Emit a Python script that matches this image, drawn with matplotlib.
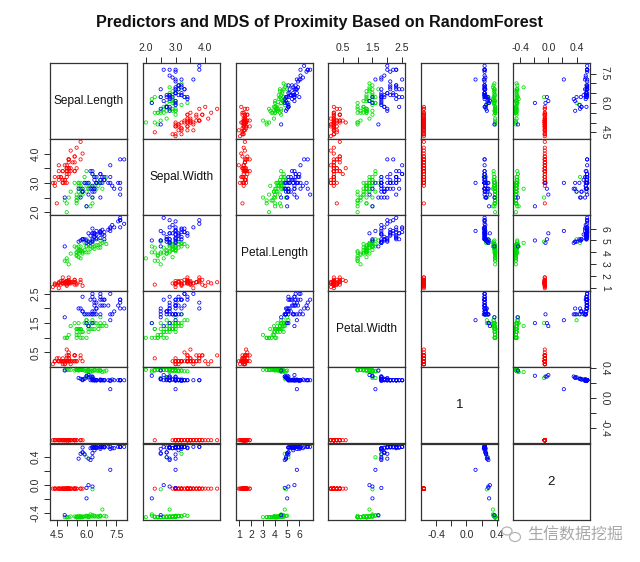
import matplotlib
matplotlib.use("Agg")
import matplotlib.pyplot as plt
from matplotlib.patches import Ellipse
import numpy as np

# ---------------- data (iris + MDS of random-forest proximity) ----------------
sepal_length = [5.1, 4.9, 4.7, 4.6, 5.0, 5.4, 4.6, 5.0, 4.4, 4.9, 5.4, 4.8, 4.8, 4.3, 5.8, 5.7, 5.4, 5.1, 5.7, 5.1,
                5.4, 5.1, 4.6, 5.1, 4.8, 5.0, 5.0, 5.2, 5.2, 4.7, 4.8, 5.4, 5.2, 5.5, 4.9, 5.0, 5.5, 4.9, 4.4, 5.1,
                5.0, 4.5, 4.4, 5.0, 5.1, 4.8, 5.1, 4.6, 5.3, 5.0,
                7.0, 6.4, 6.9, 5.5, 6.5, 5.7, 6.3, 4.9, 6.6, 5.2, 5.0, 5.9, 6.0, 6.1, 5.6, 6.7, 5.6, 5.8, 6.2, 5.6,
                5.9, 6.1, 6.3, 6.1, 6.4, 6.6, 6.8, 6.7, 6.0, 5.7, 5.5, 5.5, 5.8, 6.0, 5.4, 6.0, 6.7, 6.3, 5.6, 5.5,
                5.5, 6.1, 5.8, 5.0, 5.6, 5.7, 5.7, 6.2, 5.1, 5.7,
                6.3, 5.8, 7.1, 6.3, 6.5, 7.6, 4.9, 7.3, 6.7, 7.2, 6.5, 6.4, 6.8, 5.7, 5.8, 6.4, 6.5, 7.7, 7.7, 6.0,
                6.9, 5.6, 7.7, 6.3, 6.7, 7.2, 6.2, 6.1, 6.4, 7.2, 7.4, 7.9, 6.4, 6.3, 6.1, 7.7, 6.3, 6.4, 6.0, 6.9,
                6.7, 6.9, 5.8, 6.8, 6.7, 6.7, 6.3, 6.5, 6.2, 5.9]
sepal_width = [3.5, 3.0, 3.2, 3.1, 3.6, 3.9, 3.4, 3.4, 2.9, 3.1, 3.7, 3.4, 3.0, 3.0, 4.0, 4.4, 3.9, 3.5, 3.8, 3.8,
               3.4, 3.7, 3.6, 3.3, 3.4, 3.0, 3.4, 3.5, 3.4, 3.2, 3.1, 3.4, 4.1, 4.2, 3.1, 3.2, 3.5, 3.6, 3.0, 3.4,
               3.5, 2.3, 3.2, 3.5, 3.8, 3.0, 3.8, 3.2, 3.7, 3.3,
               3.2, 3.2, 3.1, 2.3, 2.8, 2.8, 3.3, 2.4, 2.9, 2.7, 2.0, 3.0, 2.2, 2.9, 2.9, 3.1, 3.0, 2.7, 2.2, 2.5,
               3.2, 2.8, 2.5, 2.8, 2.9, 3.0, 2.8, 3.0, 2.9, 2.6, 2.4, 2.4, 2.7, 2.7, 3.0, 3.4, 3.1, 2.3, 3.0, 2.5,
               2.6, 3.0, 2.6, 2.3, 2.7, 3.0, 2.9, 2.9, 2.5, 2.8,
               3.3, 2.7, 3.0, 2.9, 3.0, 3.0, 2.5, 2.9, 2.5, 3.6, 3.2, 2.7, 3.0, 2.5, 2.8, 3.2, 3.0, 3.8, 2.6, 2.2,
               3.2, 2.8, 2.8, 2.7, 3.3, 3.2, 2.8, 3.0, 2.8, 3.0, 2.8, 3.8, 2.8, 2.8, 2.6, 3.0, 3.4, 3.1, 3.0, 3.1,
               3.1, 3.1, 2.7, 3.2, 3.3, 3.0, 2.5, 3.0, 3.4, 3.0]
petal_length = [1.4, 1.4, 1.3, 1.5, 1.4, 1.7, 1.4, 1.5, 1.4, 1.5, 1.5, 1.6, 1.4, 1.1, 1.2, 1.5, 1.3, 1.4, 1.7, 1.5,
                1.7, 1.5, 1.0, 1.7, 1.9, 1.6, 1.6, 1.5, 1.4, 1.6, 1.6, 1.5, 1.5, 1.4, 1.5, 1.2, 1.3, 1.4, 1.3, 1.5,
                1.3, 1.3, 1.3, 1.6, 1.9, 1.4, 1.6, 1.4, 1.5, 1.4,
                4.7, 4.5, 4.9, 4.0, 4.6, 4.5, 4.7, 3.3, 4.6, 3.9, 3.5, 4.2, 4.0, 4.7, 3.6, 4.4, 4.5, 4.1, 4.5, 3.9,
                4.8, 4.0, 4.9, 4.7, 4.3, 4.4, 4.8, 5.0, 4.5, 3.5, 3.8, 3.7, 3.9, 5.1, 4.5, 4.5, 4.7, 4.4, 4.1, 4.0,
                4.4, 4.6, 4.0, 3.3, 4.2, 4.2, 4.2, 4.3, 3.0, 4.1,
                6.0, 5.1, 5.9, 5.6, 5.8, 6.6, 4.5, 6.3, 5.8, 6.1, 5.1, 5.3, 5.5, 5.0, 5.1, 5.3, 5.5, 6.7, 6.9, 5.0,
                5.7, 4.9, 6.7, 4.9, 5.7, 6.0, 4.8, 4.9, 5.6, 5.8, 6.1, 6.4, 5.6, 5.1, 5.6, 6.1, 5.6, 5.5, 4.8, 5.4,
                5.6, 5.1, 5.1, 5.9, 5.7, 5.2, 5.0, 5.2, 5.4, 5.1]
petal_width = [0.2, 0.2, 0.2, 0.2, 0.2, 0.4, 0.3, 0.2, 0.2, 0.1, 0.2, 0.2, 0.1, 0.1, 0.2, 0.4, 0.4, 0.3, 0.3, 0.3,
               0.2, 0.4, 0.2, 0.5, 0.2, 0.2, 0.4, 0.2, 0.2, 0.2, 0.2, 0.4, 0.1, 0.2, 0.2, 0.2, 0.2, 0.1, 0.2, 0.2,
               0.3, 0.3, 0.2, 0.6, 0.4, 0.3, 0.2, 0.2, 0.2, 0.2,
               1.4, 1.5, 1.5, 1.3, 1.5, 1.3, 1.6, 1.0, 1.3, 1.4, 1.0, 1.5, 1.0, 1.4, 1.3, 1.4, 1.5, 1.0, 1.5, 1.1,
               1.8, 1.3, 1.5, 1.2, 1.3, 1.4, 1.4, 1.7, 1.5, 1.0, 1.1, 1.0, 1.2, 1.6, 1.5, 1.6, 1.5, 1.3, 1.3, 1.3,
               1.2, 1.4, 1.2, 1.0, 1.3, 1.2, 1.3, 1.3, 1.1, 1.3,
               2.5, 1.9, 2.1, 1.8, 2.2, 2.1, 1.7, 1.8, 1.8, 2.5, 2.0, 1.9, 2.1, 2.0, 2.4, 2.3, 1.8, 2.2, 2.3, 1.5,
               2.3, 2.0, 2.0, 1.8, 2.1, 1.8, 1.8, 1.8, 2.1, 1.6, 1.9, 2.0, 2.2, 1.5, 1.4, 2.3, 2.4, 1.8, 1.8, 2.1,
               2.4, 2.3, 1.9, 2.3, 2.5, 2.3, 1.9, 2.0, 2.3, 1.8]
mds_dim1 = [-0.565, -0.565, -0.565, -0.565, -0.565, -0.565, -0.565, -0.565, -0.565, -0.565,
            -0.565, -0.565, -0.565, -0.565, -0.565, -0.565, -0.565, -0.565, -0.565, -0.565,
            -0.565, -0.565, -0.565, -0.565, -0.565, -0.565, -0.565, -0.565, -0.565, -0.565,
            -0.565, -0.565, -0.565, -0.565, -0.565, -0.565, -0.565, -0.565, -0.565, -0.565,
            -0.565, -0.565, -0.565, -0.565, -0.565, -0.565, -0.565, -0.565, -0.565, -0.565,
            0.37, 0.37, 0.36, 0.38, 0.37, 0.38, 0.36, 0.38, 0.37, 0.38,
            0.38, 0.37, 0.37, 0.37, 0.38, 0.37, 0.37, 0.38, 0.35, 0.38,
            0.26, 0.38, 0.27, 0.37, 0.38, 0.37, 0.35, 0.37, 0.37, 0.38,
            0.38, 0.38, 0.38, 0.27, 0.37, 0.36, 0.37, 0.37, 0.38, 0.38,
            0.38, 0.37, 0.38, 0.38, 0.38, 0.38, 0.38, 0.37, 0.38, 0.38,
            0.24, 0.25, 0.24, 0.25, 0.24, 0.24, 0.37, 0.25, 0.25, 0.24,
            0.24, 0.24, 0.24, 0.26, 0.24, 0.24, 0.24, 0.24, 0.24, 0.30,
            0.24, 0.27, 0.24, 0.28, 0.24, 0.23, 0.29, 0.28, 0.24, 0.12,
            0.24, 0.24, 0.24, 0.29, 0.31, 0.24, 0.24, 0.25, 0.29, 0.24,
            0.24, 0.24, 0.25, 0.24, 0.24, 0.24, 0.26, 0.24, 0.24, 0.26]
mds_dim2 = [-0.05, -0.05, -0.05, -0.05, -0.05, -0.05, -0.05, -0.05, -0.05, -0.05,
            -0.05, -0.05, -0.05, -0.05, -0.05, -0.05, -0.05, -0.05, -0.05, -0.05,
            -0.05, -0.05, -0.05, -0.05, -0.05, -0.05, -0.05, -0.05, -0.05, -0.05,
            -0.05, -0.05, -0.05, -0.05, -0.05, -0.05, -0.05, -0.05, -0.05, -0.05,
            -0.05, -0.05, -0.05, -0.05, -0.05, -0.05, -0.05, -0.05, -0.05, -0.05,
            -0.45, -0.44, -0.44, -0.46, -0.45, -0.45, -0.43, -0.46, -0.45, -0.45,
            -0.46, -0.45, -0.44, -0.45, -0.46, -0.45, -0.44, -0.46, -0.42, -0.46,
            0.45, -0.46, -0.06, -0.45, -0.45, -0.45, -0.35, -0.44, -0.45, -0.46,
            -0.46, -0.46, -0.45, 0.40, -0.45, -0.44, -0.44, -0.45, -0.46, -0.46,
            -0.45, -0.45, -0.46, -0.46, -0.46, -0.45, -0.46, -0.45, -0.46, -0.46,
            0.55, 0.47, 0.55, 0.53, 0.55, 0.55, -0.43, 0.53, 0.52, 0.55,
            0.54, 0.54, 0.55, 0.45, 0.54, 0.55, 0.53, 0.55, 0.55, -0.19,
            0.55, 0.38, 0.55, 0.40, 0.55, 0.52, 0.36, 0.38, 0.54, 0.22,
            0.53, 0.55, 0.54, -0.02, 0.00, 0.55, 0.54, 0.50, -0.04, 0.55,
            0.55, 0.54, 0.47, 0.55, 0.55, 0.54, 0.46, 0.54, 0.53, 0.44]
species_names = ["setosa", "versicolor", "virginica"]
species_counts = [50, 50, 50]
species_colors = ["#FF0000", "#00DD00", "#0000FF"]

var_names = ["Sepal.Length", "Sepal.Width", "Petal.Length", "Petal.Width", "1", "2"]
tick_values = [[4.5, 5.0, 5.5, 6.0, 6.5, 7.0, 7.5],
               [2.0, 2.5, 3.0, 3.5, 4.0],
               [1, 2, 3, 4, 5, 6],
               [0.5, 1.0, 1.5, 2.0, 2.5],
               [-0.4, -0.2, 0.0, 0.2, 0.4],
               [-0.4, -0.2, 0.0, 0.2, 0.4]]
tick_labels = [["4.5", "", "", "6.0", "", "", "7.5"],
               ["2.0", "", "3.0", "", "4.0"],
               ["1", "2", "3", "4", "5", "6"],
               ["0.5", "", "1.5", "", "2.5"],
               ["-0.4", "", "0.0", "", "0.4"],
               ["-0.4", "", "0.0", "", "0.4"]]
title = "Predictors and MDS of Proximity Based on RandomForest"

# ---------------- figure ----------------
W, H = 640, 562
fig = plt.figure(figsize=(W / 100, H / 100), dpi=100)
fig.patch.set_facecolor("white")
plt.rcParams["font.family"] = ["Liberation Sans", "DejaVu Sans"]

variables = [np.array(v, dtype=float) for v in
             (sepal_length, sepal_width, petal_length, petal_width, mds_dim1, mds_dim2)]
point_colors = np.repeat(np.array(species_colors), species_counts)
limits = []
for v in variables:
    lo, hi = v.min(), v.max()
    pad = 0.04 * (hi - lo)
    limits.append((lo - pad, hi + pad))

col_left = [50, 143, 236, 328, 421, 513]
row_top = [63, 139, 215, 291, 367, 444]
pw, ph = 77, 76
n = len(variables)
tick_color = "#2a2a2a"

for i in range(n):
    for j in range(n):
        ax = fig.add_axes([col_left[j] / W, 1 - (row_top[i] + ph) / H, pw / W, ph / H])
        for s in ax.spines.values():
            s.set_color("#333333")
            s.set_linewidth(0.9)
        ax.set_xlim(limits[j])
        ax.set_ylim(limits[i])
        if i == j:
            ax.text(0.5, 0.5, var_names[i], transform=ax.transAxes, ha="center", va="center",
                    fontsize=8.6 if i < 4 else 9.5, color="#111111")
        else:
            ax.scatter(variables[j], variables[i], s=5.5, facecolors="none",
                       edgecolors=point_colors, linewidths=0.55)
        # ticks
        ax.set_xticks(tick_values[j])
        ax.set_xticklabels(tick_labels[j])
        ax.set_yticks(tick_values[i])
        ax.set_yticklabels(tick_labels[i])
        ax.tick_params(axis="both", direction="out", length=4.5, width=0.7, color=tick_color,
                       labelsize=7.5, labelcolor=tick_color, pad=2.5,
                       bottom=False, top=False, left=False, right=False,
                       labelbottom=False, labeltop=False, labelleft=False, labelright=False)
        if i == 0 and j % 2 == 1:
            ax.tick_params(axis="x", top=True, labeltop=True)
        if i == n - 1 and j % 2 == 0:
            ax.tick_params(axis="x", bottom=True, labelbottom=True)
        if j == 0 and i % 2 == 1:
            ax.tick_params(axis="y", left=True, labelleft=True)
            for lab in ax.get_yticklabels():
                lab.set_rotation(90)
                lab.set_va("center")
        if j == n - 1 and i % 2 == 0:
            ax.tick_params(axis="y", right=True, labelright=True)
            for lab in ax.get_yticklabels():
                lab.set_rotation(-90)
                lab.set_va("center")

fig.text(0.5, 1 - 23 / H, title, ha="center", va="center", fontsize=11.6,
         fontweight="bold", color="#111111")

# watermark
fig.add_artist(Ellipse((507 / W, 1 - 531 / H), 10 / W, 8 / H, fill=False,
                       edgecolor="#b5b5b5", linewidth=0.9, transform=fig.transFigure))
fig.add_artist(Ellipse((515 / W, 1 - 537 / H), 11 / W, 9 / H, fill=False,
                       edgecolor="#b5b5b5", linewidth=0.9, transform=fig.transFigure))
fig.text(527 / W, 1 - 535 / H, "生信数据挖掘", ha="left", va="center", fontsize=11.5,
         color="#a8a8a8", family=["Noto Sans CJK SC", "DejaVu Sans"])

fig.savefig("out.png", dpi=100, facecolor="white")
